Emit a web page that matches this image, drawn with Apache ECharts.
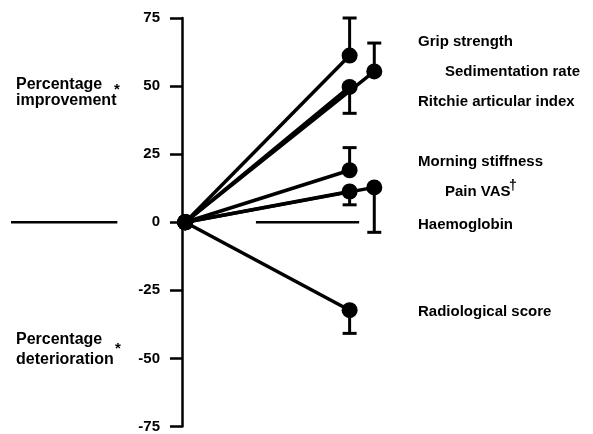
<!DOCTYPE html>
<html>
<head>
<meta charset="utf-8">
<script src="https://cdn.jsdelivr.net/npm/echarts@6/dist/echarts.min.js"></script>
<style>
  html, body { margin: 0; padding: 0; background: #fff; }
  #chart { width: 593px; height: 434px; }
</style>
</head>
<body>
<div id="chart"></div>
<script>
// Outcome measures: percentage change from baseline (time 0) to follow-up
const measures = ['Grip strength', 'Sedimentation rate', 'Ritchie articular index',
                  'Morning stiffness', 'Pain VAS', 'Haemoglobin', 'Radiological score'];
// Follow-up column for each measure (1 = first column, 1.15 = offset column)
const followUp = [1, 1.15, 1, 1, 1.15, 1, 1];
// Mean percentage change
const meanChange = [61.2, 55.4, 49.7, 19.1, 12.8, 11.3, -32.3];
// End of the one-sided error bar
const errorEnd = [75, 65.8, 40.0, 27.4, -3.7, 6.4, -40.8];
// Y axis
const yMin = -75, yMax = 75, yStep = 25;
// Broken zero reference line (x extents of its two pieces)
const zeroPieces = [[-1.06, -0.413], [0.43, 1.058]];

const FONT = '"Liberation Sans", Arial, Helvetica, sans-serif';
const INK = '#000';

const series = [];

// zero reference line pieces
zeroPieces.forEach(function (p) {
  series.push({
    type: 'line',
    data: [[p[0], 0], [p[1], 0]],
    symbol: 'none',
    clip: false,
    silent: true,
    lineStyle: { color: INK, width: 2.5 },
    z: 1
  });
});

// one line per measure from baseline to follow-up
measures.forEach(function (name, i) {
  series.push({
    type: 'line',
    name: name,
    data: [[0, 0], [followUp[i], meanChange[i]]],
    symbol: 'circle',
    symbolSize: 16,
    clip: false,
    lineStyle: { color: INK, width: 3.5 },
    itemStyle: { color: INK },
    z: 3
  });
});

// error bars
series.push({
  type: 'custom',
  data: measures.map(function (n, i) { return [followUp[i], meanChange[i], errorEnd[i]]; }),
  renderItem: function (params, api) {
    const a = api.coord([api.value(0), api.value(1)]);
    const b = api.coord([api.value(0), api.value(2)]);
    const half = 7;
    return {
      type: 'group',
      children: [
        { type: 'line', shape: { x1: a[0], y1: a[1], x2: b[0], y2: b[1] },
          style: { stroke: INK, lineWidth: 3 } },
        { type: 'line', shape: { x1: b[0] - half, y1: b[1], x2: b[0] + half, y2: b[1] },
          style: { stroke: INK, lineWidth: 3 } }
      ]
    };
  },
  z: 2
});

// right-hand measure labels (indented ones sit at the offset column)
const labelRows = [42, 72, 102, 162, 192, 225, 312];
const graphics = measures.map(function (name, i) {
  return {
    type: 'text',
    left: followUp[i] > 1 ? 445 : 418,
    top: labelRows[i] - 8,
    style: { text: name, font: 'bold 15px ' + FONT, fill: INK }
  };
});
// dagger after Pain VAS
graphics.push({
  type: 'text', left: 509, top: 179,
  style: { text: '\u2020', font: 'bold 14px ' + FONT, fill: INK }
});
// left-hand axis captions
graphics.push(
  { type: 'text', left: 16, top: 77, style: { text: 'Percentage\nimprovement', font: 'bold 16px ' + FONT, fill: INK, lineHeight: 16 } },
  { type: 'text', left: 114, top: 82, style: { text: '*', font: 'bold 15px ' + FONT, fill: INK } },
  { type: 'text', left: 16, top: 330, style: { text: 'Percentage\ndeterioration', font: 'bold 16px ' + FONT, fill: INK, lineHeight: 20 } },
  { type: 'text', left: 115, top: 341, style: { text: '*', font: 'bold 15px ' + FONT, fill: INK } }
);

const chart = echarts.init(document.getElementById('chart'), null, { renderer: 'canvas' });
chart.setOption({
  animation: false,
  backgroundColor: '#fff',
  grid: { left: 11, right: 79, top: 18, bottom: 5, containLabel: false },
  xAxis: {
    type: 'value', min: -1.06, max: 2,
    show: false
  },
  yAxis: {
    type: 'value', min: yMin, max: yMax, interval: yStep,
    offset: -171,
    axisLine: { show: true, onZero: false, lineStyle: { color: INK, width: 2.5 } },
    axisTick: { show: true, length: 12, lineStyle: { color: INK, width: 2.5 } },
    axisLabel: { color: INK, fontFamily: FONT, fontWeight: 'bold', fontSize: 15, margin: 22 },
    splitLine: { show: false }
  },
  series: series,
  graphic: graphics
});
</script>
</body>
</html>
